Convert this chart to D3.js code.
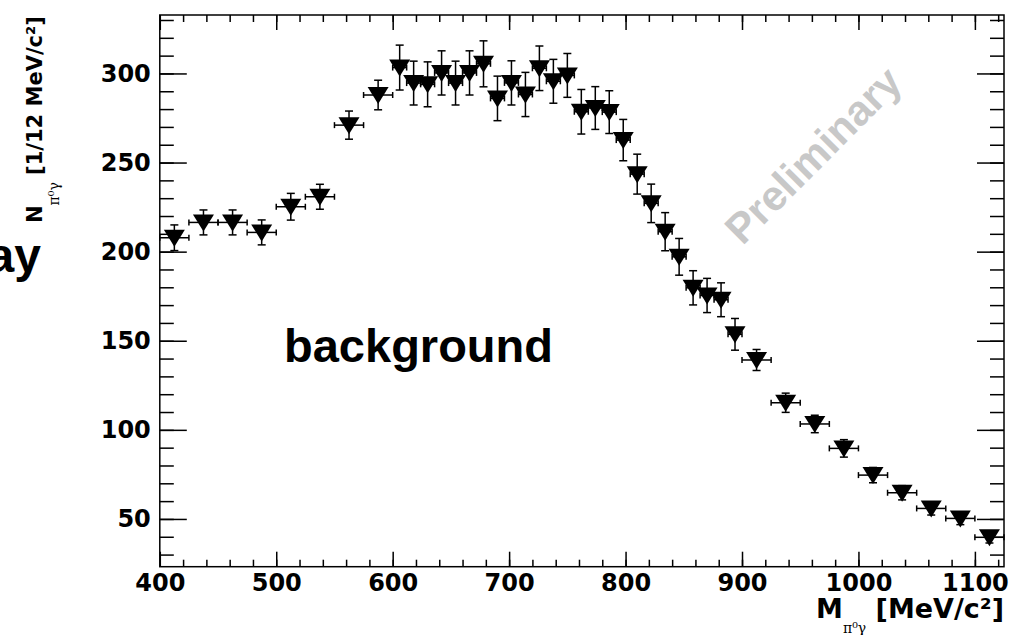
<!DOCTYPE html>
<html>
<head>
<meta charset="utf-8">
<script src="https://cdn.jsdelivr.net/npm/d3@7"></script>
<style>
  body { margin: 0; background: #fff; }
  svg { display: block; }
  .tick text { font-family: "DejaVu Sans"; font-weight: bold; font-size: 24px; fill: #000; }
  .tick line { stroke: #000; stroke-width: 1.5; }
</style>
</head>
<body>
<div id="chart-area"></div>
<script>
// bin centres (MeV/c^2): 25 MeV bins, then 12 MeV bins over the peak, then 25 MeV again
const massCenters = [412.5, 437.5, 462.5, 487.5, 512.5, 537.5, 562.5, 587.5,
  606, 618, 630, 642, 654, 666, 678, 690, 702, 714, 726, 738, 750, 762, 774, 786, 798,
  810, 822, 834, 846, 858, 870, 882, 894,
  912.5, 937.5, 962.5, 987.5, 1012.5, 1037.5, 1062.5, 1087.5, 1112.5];
const binHalfWidths = [12.5, 12.5, 12.5, 12.5, 12.5, 12.5, 12.5, 12.5,
  6, 6, 6, 6, 6, 6, 6, 6, 6, 6, 6, 6, 6, 6, 6, 6, 6,
  6, 6, 6, 6, 6, 6, 6, 6,
  12.5, 12.5, 12.5, 12.5, 12.5, 12.5, 12.5, 12.5, 12.5];
const counts = [207.8, 216.4, 216.4, 210.8, 225.2, 230.8, 271.0, 287.9,
  303.3, 294.6, 293.9, 300.3, 294.6, 300.3, 305.4, 286.0, 294.7, 288.2, 302.9, 295.6, 298.9, 278.5, 280.6, 278.3, 262.6,
  243.5, 227.1, 211.2, 197.1, 179.7, 175.4, 173.0, 153.6,
  139.2, 115.2, 103.3, 89.6, 74.6, 64.7, 55.9, 50.3, 39.7];
const countErrors = [7.2, 7.0, 7.0, 7.0, 7.5, 7.0, 7.9, 8.3,
  12.6, 12.3, 12.6, 12.4, 12.3, 12.4, 12.9, 12.5, 12.4, 12.4, 12.5, 12.3, 12.3, 12.5, 12.0, 12.0, 11.6,
  11.2, 10.8, 10.7, 10.3, 9.6, 9.6, 9.5, 8.9,
  5.9, 5.4, 4.9, 4.9, 4.3, 4.0, 3.7, 3.5, 3.2];

const xTickValues = [400, 500, 600, 700, 800, 900, 1000, 1100];
const yTickValues = [50, 100, 150, 200, 250, 300];

const chartSize = { width: 1022, height: 635 };
const margin = { left: 159.8, right: 18, top: 15, bottom: 68.3 };
const width = chartSize.width - (margin.left + margin.right);
const height = chartSize.height - (margin.top + margin.bottom);

const svg = d3.select('#chart-area').append('svg')
  .attr('width', chartSize.width)
  .attr('height', chartSize.height);

const g = svg.append('g')
  .attr('transform', `translate(${margin.left},${margin.top})`);

const x = d3.scaleLinear().domain([400, 1125]).range([0, width]);
const y = d3.scaleLinear().domain([23.2, 332.8]).range([height, 0]);

const xMinor = d3.range(420, 1125, 20);
const yMinor = d3.range(30, 333, 10);
const noDomain = sel => sel.select('.domain').remove();

// minor ticks, pointing inward on all four sides
g.append('g').attr('transform', `translate(0,${height})`)
  .call(d3.axisBottom(x).tickValues(xMinor).tickSize(-7).tickFormat('')).call(noDomain);
g.append('g')
  .call(d3.axisTop(x).tickValues(xMinor).tickSize(-7).tickFormat('')).call(noDomain);
g.append('g')
  .call(d3.axisLeft(y).tickValues(yMinor).tickSize(-14).tickFormat('')).call(noDomain);
g.append('g').attr('transform', `translate(${width},0)`)
  .call(d3.axisRight(y).tickValues(yMinor).tickSize(-14).tickFormat('')).call(noDomain);

// major ticks + labels
g.append('g').attr('class', 'x axis').attr('transform', `translate(0,${height})`)
  .call(d3.axisBottom(x).tickValues(xTickValues).tickSize(-15).tickFormat(d3.format('d')))
  .call(noDomain)
  .selectAll('text').attr('y', 24).attr('dy', null);
g.append('g')
  .call(d3.axisTop(x).tickValues(xTickValues).tickSize(-15).tickFormat('')).call(noDomain);
g.append('g').attr('class', 'y axis')
  .call(d3.axisLeft(y).tickValues(yTickValues).tickSize(-27).tickPadding(9))
  .call(noDomain);
g.append('g').attr('transform', `translate(${width},0)`)
  .call(d3.axisRight(y).tickValues(yTickValues).tickSize(-27).tickFormat('')).call(noDomain);

g.append('rect')
  .attr('width', width).attr('height', height)
  .attr('fill', 'none').attr('stroke', '#000').attr('stroke-width', 1.5);

// data points with error bars
const points = massCenters.map((m, i) => ({ m, hw: binHalfWidths[i], n: counts[i], e: countErrors[i] }));

const pt = g.append('g').attr('class', 'points')
  .selectAll('g').data(points).join('g')
  .attr('stroke', '#000').attr('stroke-width', 1.5);

pt.append('line')
  .attr('x1', d => x(d.m)).attr('x2', d => x(d.m))
  .attr('y1', d => y(d.n - d.e)).attr('y2', d => y(d.n + d.e));
pt.append('line')
  .attr('x1', d => x(d.m) - 4).attr('x2', d => x(d.m) + 4)
  .attr('y1', d => y(d.n + d.e)).attr('y2', d => y(d.n + d.e));
pt.append('line')
  .attr('x1', d => x(d.m) - 4).attr('x2', d => x(d.m) + 4)
  .attr('y1', d => y(d.n - d.e)).attr('y2', d => y(d.n - d.e));
pt.append('line')
  .attr('x1', d => x(d.m - d.hw)).attr('x2', d => x(d.m + d.hw))
  .attr('y1', d => y(d.n)).attr('y2', d => y(d.n));
pt.append('line')
  .attr('x1', d => x(d.m - d.hw)).attr('x2', d => x(d.m - d.hw))
  .attr('y1', d => y(d.n) - 3).attr('y2', d => y(d.n) + 3);
pt.append('line')
  .attr('x1', d => x(d.m + d.hw)).attr('x2', d => x(d.m + d.hw))
  .attr('y1', d => y(d.n) - 3).attr('y2', d => y(d.n) + 3);
pt.append('path')
  .attr('transform', d => `translate(${x(d.m)},${y(d.n)})`)
  .attr('d', 'M-10.5,-8L10.5,-8L0,9Z')
  .attr('fill', '#000').attr('stroke', 'none');

// axis titles
const yTitle = svg.append('text')
  .attr('transform', 'translate(42,223) rotate(-90)')
  .attr('font-family', 'DejaVu Sans').attr('font-weight', 'bold').attr('font-size', 21);
yTitle.append('tspan').text('N');
yTitle.append('tspan').attr('dy', 17).attr('font-size', 14).attr('font-weight', 'normal')
  .attr('font-family', 'DejaVu Serif').text('π⁰γ');
yTitle.append('tspan').attr('dy', -17).text(' [1/12 MeV/c²]');

const xTitle = svg.append('text')
  .attr('x', 1004).attr('y', 618).attr('text-anchor', 'end')
  .attr('font-family', 'DejaVu Sans').attr('font-weight', 'bold').attr('font-size', 27);
xTitle.append('tspan').text('M');
xTitle.append('tspan').attr('dy', 15).attr('font-size', 14).attr('font-weight', 'normal')
  .attr('font-family', 'DejaVu Serif').text('π⁰γ');
xTitle.append('tspan').attr('dy', -15).text(' [MeV/c²]');

// annotations
svg.append('text')
  .attr('x', 284).attr('y', 362)
  .attr('font-family', 'Liberation Sans').attr('font-weight', 'bold').attr('font-size', 47)
  .text('background');

svg.append('text')
  .attr('x', 41).attr('y', 272).attr('text-anchor', 'end')
  .attr('font-family', 'Liberation Sans').attr('font-weight', 'bold').attr('font-size', 48)
  .text('ay');

svg.append('text')
  .attr('transform', 'translate(813,155) rotate(-45)')
  .attr('text-anchor', 'middle').attr('dy', '0.35em')
  .attr('font-family', 'Liberation Sans').attr('font-weight', 'bold').attr('font-size', 42)
  .attr('fill', '#c8c8c8')
  .text('Preliminary');
</script>
</body>
</html>
